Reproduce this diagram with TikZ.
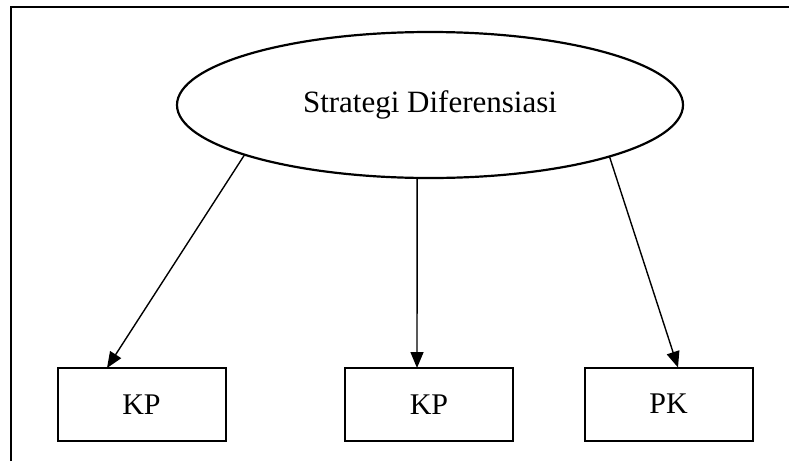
\documentclass[tikz,border=0pt]{standalone}
\usepackage{fontspec}
\setmainfont{Liberation Serif}
\usetikzlibrary{shapes.geometric,arrows.meta,calc}

\tikzset{
  frameline/.style={line width=2pt},
  topic/.style={draw, ellipse, line width=2.2pt, inner sep=0pt, outer sep=0pt,
    minimum width=506pt, minimum height=146pt,
    font=\fontsize{31}{36}\selectfont},
  itembox/.style={draw, rectangle, line width=2pt, inner sep=0pt, outer sep=0pt,
    minimum width=168pt, minimum height=73pt,
    font=\fontsize{30}{36}\selectfont},
  link/.style={line width=1.4pt, -{Triangle[length=16pt,width=13pt]}}
}

\begin{document}
\begin{tikzpicture}[x=1pt,y=-1pt]
  \useasboundingbox (0,0) rectangle (789,461);

  % open frame: left and top edges
  \coordinate (fbl) at (11,461);
  \coordinate (ftl) at (11,7);
  \coordinate (ftr) at (789,7);
  \draw[frameline] (fbl) -- (ftl) -- (ftr);

  % central concept
  \node[topic] (sd) at (430,105) {Strategi Diferensiasi};

  % three outcome boxes
  \node[itembox] (k1) at (141.5,404.5) {KP};
  \node[itembox] (k2) at (429,404.5) {KP};
  \node[itembox] (k3) at (668.5,404) {PK};

  % connectors
  \draw[link] (sd.195) -- ($(k1.north)+(-34.5,0)$);
  \draw[link] (sd.260) -- ($(k2.north)+(-12,0)$);
  \draw[link] (sd.344.8) -- ($(k3.north)+(9.5,0)$);
\end{tikzpicture}
\end{document}
